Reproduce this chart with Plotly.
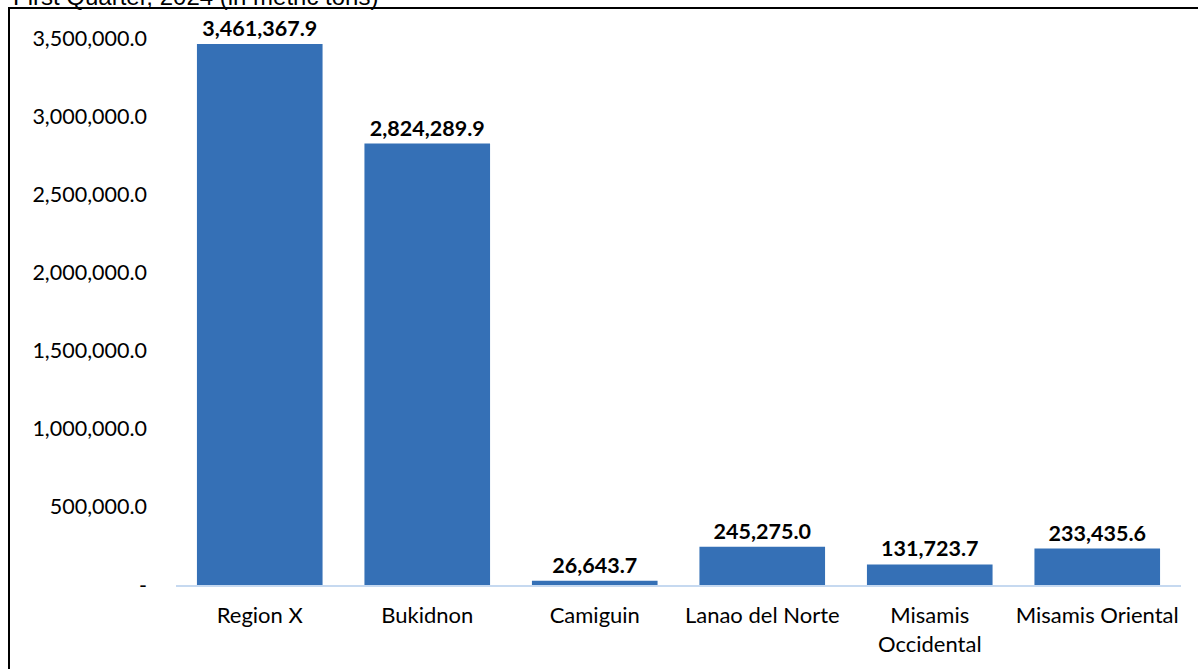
import plotly.graph_objects as go

categories = ["Region X", "Bukidnon", "Camiguin", "Lanao del Norte",
              "Misamis<br>Occidental", "Misamis Oriental"]
values = [3461367.9, 2824289.9, 26643.7, 245275.0, 131723.7, 233435.6]
tick_vals = [0, 500000, 1000000, 1500000, 2000000, 2500000, 3000000, 3500000]
tick_text = ["-", "500,000.0", "1,000,000.0", "1,500,000.0", "2,000,000.0",
             "2,500,000.0", "3,000,000.0", "3,500,000.0"]
title_text = "First Quarter, 2024 (in metric tons)"

W, H = 1198, 669
L, R, T, B = 176, 17, 38, 84
pw, ph = W - L - R, H - T - B

fig = go.Figure()
fig.add_trace(go.Bar(
    x=categories, y=values,
    marker=dict(color="#3570B6", line=dict(width=0)),
    width=0.75,
    text=[f"{v:,.1f}" for v in values],
    textposition="outside",
    textfont=dict(family="Lato", size=21.5, color="#000000", weight="bold"),
    constraintext="none",
    cliponaxis=False,
    hoverinfo="skip",
))

fig.update_layout(
    width=W, height=H,
    margin=dict(l=L, r=R, t=T, b=B, pad=0),
    paper_bgcolor="white", plot_bgcolor="white",
    showlegend=False,
    font=dict(family="Lato", size=21, color="#000000"),
    xaxis=dict(
        showline=True, linecolor="#C6D9F0", linewidth=2,
        showgrid=False, ticks="", ticklabelstandoff=10,
        tickfont=dict(family="Lato", size=22, color="#000000"),
    ),
    yaxis=dict(
        range=[0, 3500000], tickvals=tick_vals, ticktext=tick_text,
        showline=False, showgrid=False, zeroline=False, ticks="",
        ticklabelstandoff=28,
        tickfont=dict(family="Lato", size=21.5, color="#000000"),
    ),
    shapes=[dict(
        type="rect", xref="paper", yref="paper",
        x0=(9 - L) / pw, x1=(W + 60 - L) / pw,
        y0=-(H + 60 - T - ph) / ph, y1=1 + (T - 8) / ph,
        line=dict(color="#000000", width=2), fillcolor="rgba(0,0,0,0)",
        layer="above",
    )],
    annotations=[dict(
        text=title_text, xref="paper", yref="paper",
        x=(11 - L) / pw, y=1 + (T + 3) / ph,
        xanchor="left", yanchor="middle", showarrow=False,
        font=dict(family="Liberation Sans", size=24, color="#000000"),
    )],
)

fig.write_html(
    "out.html",
    config={"displayModeBar": False},
    post_script="document.body.style.margin='0';document.body.style.overflow='hidden';",
)
